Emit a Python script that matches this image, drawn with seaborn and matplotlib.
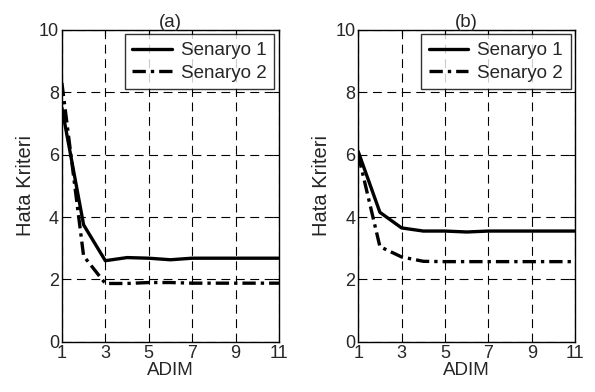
import pandas as pd
import numpy as np
import matplotlib
matplotlib.use('Agg')
import matplotlib.pyplot as plt
import seaborn as sns

adim = [1, 2, 3, 4, 5, 6, 7, 8, 9, 10, 11]
a_senaryo1 = [7.5, 3.75, 2.6, 2.7, 2.68, 2.63, 2.68, 2.68, 2.68, 2.68, 2.68]
a_senaryo2 = [8.3, 2.75, 1.87, 1.87, 1.9, 1.9, 1.88, 1.88, 1.88, 1.88, 1.88]
b_senaryo1 = [6.1, 4.15, 3.65, 3.55, 3.55, 3.52, 3.55, 3.55, 3.55, 3.55, 3.55]
b_senaryo2 = [6.0, 3.05, 2.72, 2.58, 2.57, 2.57, 2.57, 2.57, 2.57, 2.57, 2.57]
panels = ['(a)', '(b)']
names = ['Senaryo 1', 'Senaryo 2']

sns.set_style('white')
plt.rcParams['font.family'] = ['Liberation Sans', 'DejaVu Sans']
plt.rcParams['font.size'] = 13


def make_df(s1, s2):
    return pd.DataFrame({
        'ADIM': adim + adim,
        'Hata Kriteri': s1 + s2,
        'Senaryo': [names[0]] * len(adim) + [names[1]] * len(adim),
    })


fig = plt.figure(figsize=(5.95, 3.92), dpi=100)
ax1 = fig.add_axes([0.104, 0.128, 0.365, 0.796])
ax2 = fig.add_axes([0.602, 0.128, 0.365, 0.796])

data = [make_df(a_senaryo1, a_senaryo2), make_df(b_senaryo1, b_senaryo2)]
for ax, df, title in zip([ax1, ax2], data, panels):
    sns.lineplot(data=df, x='ADIM', y='Hata Kriteri', style='Senaryo',
                 dashes={names[0]: '', names[1]: (4, 1.5, 1, 1.5)},
                 color='black', linewidth=2.4, ax=ax, legend=False)
    ax.set_xlim(1, 11)
    ax.set_ylim(0, 10)
    ax.set_xticks([1, 3, 5, 7, 9, 11])
    ax.set_yticks([0, 2, 4, 6, 8, 10])
    ax.grid(True, color='black', linestyle=(0, (8, 5)), linewidth=0.8)
    ax.tick_params(direction='in', length=4, labelsize=13, pad=2,
                   top=True, right=True, color='black')
    for sp in ax.spines.values():
        sp.set_color('black')
        sp.set_linewidth(1.0)
    ax.set_title(title, fontsize=13.5, pad=2)
    ax.set_xlabel('ADIM', fontsize=13.5, labelpad=0)
    ax.set_ylabel('Hata Kriteri', fontsize=14.5, labelpad=3)
    leg = ax.legend(handles=ax.get_lines()[:2], labels=names, loc='upper right',
                    fontsize=13.5, frameon=True, fancybox=False, edgecolor='black',
                    handlelength=2.1, handletextpad=0.5, borderaxespad=0.25,
                    labelspacing=0.3, borderpad=0.4)
    leg.get_frame().set_linewidth(1.0)

fig.savefig('out.png', dpi=100)
